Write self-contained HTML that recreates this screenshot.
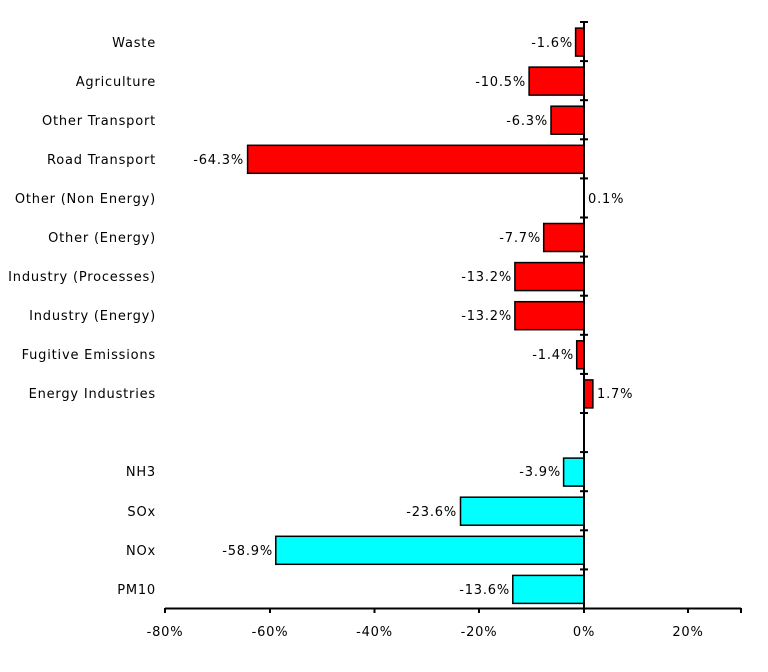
<!DOCTYPE html>
<html><head><meta charset="utf-8"><style>
html,body{margin:0;padding:0;background:#fff;}
svg{display:block;}
text{font-family:"DejaVu Sans","Liberation Sans",sans-serif;font-size:13px;fill:#000;letter-spacing:0.8px;}
</style></head><body>
<svg width="768" height="672" viewBox="0 0 768 672" xmlns="http://www.w3.org/2000/svg">
<g stroke="#000" stroke-width="1.5">
<rect x="575.6" y="28.1" width="8.4" height="28" fill="#ff0000"/>
<rect x="529.1" y="67.1" width="54.9" height="28" fill="#ff0000"/>
<rect x="551" y="106.2" width="33" height="28" fill="#ff0000"/>
<rect x="247.6" y="145.3" width="336.4" height="28" fill="#ff0000"/>
<rect x="543.7" y="223.5" width="40.3" height="28" fill="#ff0000"/>
<rect x="514.9" y="262.6" width="69.1" height="28" fill="#ff0000"/>
<rect x="514.9" y="301.7" width="69.1" height="28" fill="#ff0000"/>
<rect x="576.7" y="340.8" width="7.3" height="28" fill="#ff0000"/>
<rect x="584" y="379.9" width="8.9" height="28" fill="#ff0000"/>
<rect x="563.6" y="458.1" width="20.4" height="28" fill="#00ffff"/>
<rect x="460.5" y="497.2" width="123.5" height="28" fill="#00ffff"/>
<rect x="275.8" y="536.3" width="308.2" height="28" fill="#00ffff"/>
<rect x="512.8" y="575.4" width="71.2" height="28" fill="#00ffff"/>
</g>
<g stroke="#000" stroke-width="2">
<line x1="584" y1="22" x2="584" y2="613"/>
<line x1="165" y1="608.5" x2="741" y2="608.5"/>
<line x1="580" y1="22" x2="588" y2="22"/>
<line x1="580" y1="61.1" x2="588" y2="61.1"/>
<line x1="580" y1="100.2" x2="588" y2="100.2"/>
<line x1="580" y1="139.3" x2="588" y2="139.3"/>
<line x1="580" y1="178.4" x2="588" y2="178.4"/>
<line x1="580" y1="217.5" x2="588" y2="217.5"/>
<line x1="580" y1="256.6" x2="588" y2="256.6"/>
<line x1="580" y1="295.7" x2="588" y2="295.7"/>
<line x1="580" y1="334.8" x2="588" y2="334.8"/>
<line x1="580" y1="373.9" x2="588" y2="373.9"/>
<line x1="580" y1="413" x2="588" y2="413"/>
<line x1="580" y1="452.1" x2="588" y2="452.1"/>
<line x1="580" y1="491.2" x2="588" y2="491.2"/>
<line x1="580" y1="530.3" x2="588" y2="530.3"/>
<line x1="580" y1="569.4" x2="588" y2="569.4"/>
<line x1="165" y1="608" x2="165" y2="613"/>
<line x1="270" y1="608" x2="270" y2="613"/>
<line x1="374.5" y1="608" x2="374.5" y2="613"/>
<line x1="479" y1="608" x2="479" y2="613"/>
<line x1="688" y1="608" x2="688" y2="613"/>
<line x1="741" y1="608" x2="741" y2="613"/>
</g>
<g text-anchor="end">
<text x="156" y="47">Waste</text>
<text x="156" y="86">Agriculture</text>
<text x="156" y="125">Other Transport</text>
<text x="156" y="164">Road Transport</text>
<text x="156" y="203">Other (Non Energy)</text>
<text x="156" y="242">Other (Energy)</text>
<text x="156" y="281">Industry (Processes)</text>
<text x="156" y="320">Industry (Energy)</text>
<text x="156" y="359">Fugitive Emissions</text>
<text x="156" y="398">Energy Industries</text>
<text x="156" y="476">NH3</text>
<text x="156" y="516">SOx</text>
<text x="156" y="555">NOx</text>
<text x="156" y="594">PM10</text>
<text x="573" y="47">-1.6%</text>
<text x="526" y="86">-10.5%</text>
<text x="548" y="125">-6.3%</text>
<text x="244" y="164">-64.3%</text>
<text x="541" y="242">-7.7%</text>
<text x="512" y="281">-13.2%</text>
<text x="512" y="320">-13.2%</text>
<text x="574" y="359">-1.4%</text>
<text x="561" y="476">-3.9%</text>
<text x="457" y="516">-23.6%</text>
<text x="273" y="555">-58.9%</text>
<text x="510" y="594">-13.6%</text>
</g>
<text x="588" y="203">0.1%</text>
<text x="597" y="398">1.7%</text>
<g text-anchor="middle">
<text x="165" y="636">-80%</text>
<text x="270" y="636">-60%</text>
<text x="374.5" y="636">-40%</text>
<text x="479" y="636">-20%</text>
<text x="584" y="636">0%</text>
<text x="688" y="636">20%</text>
</g>
</svg>
</body></html>
